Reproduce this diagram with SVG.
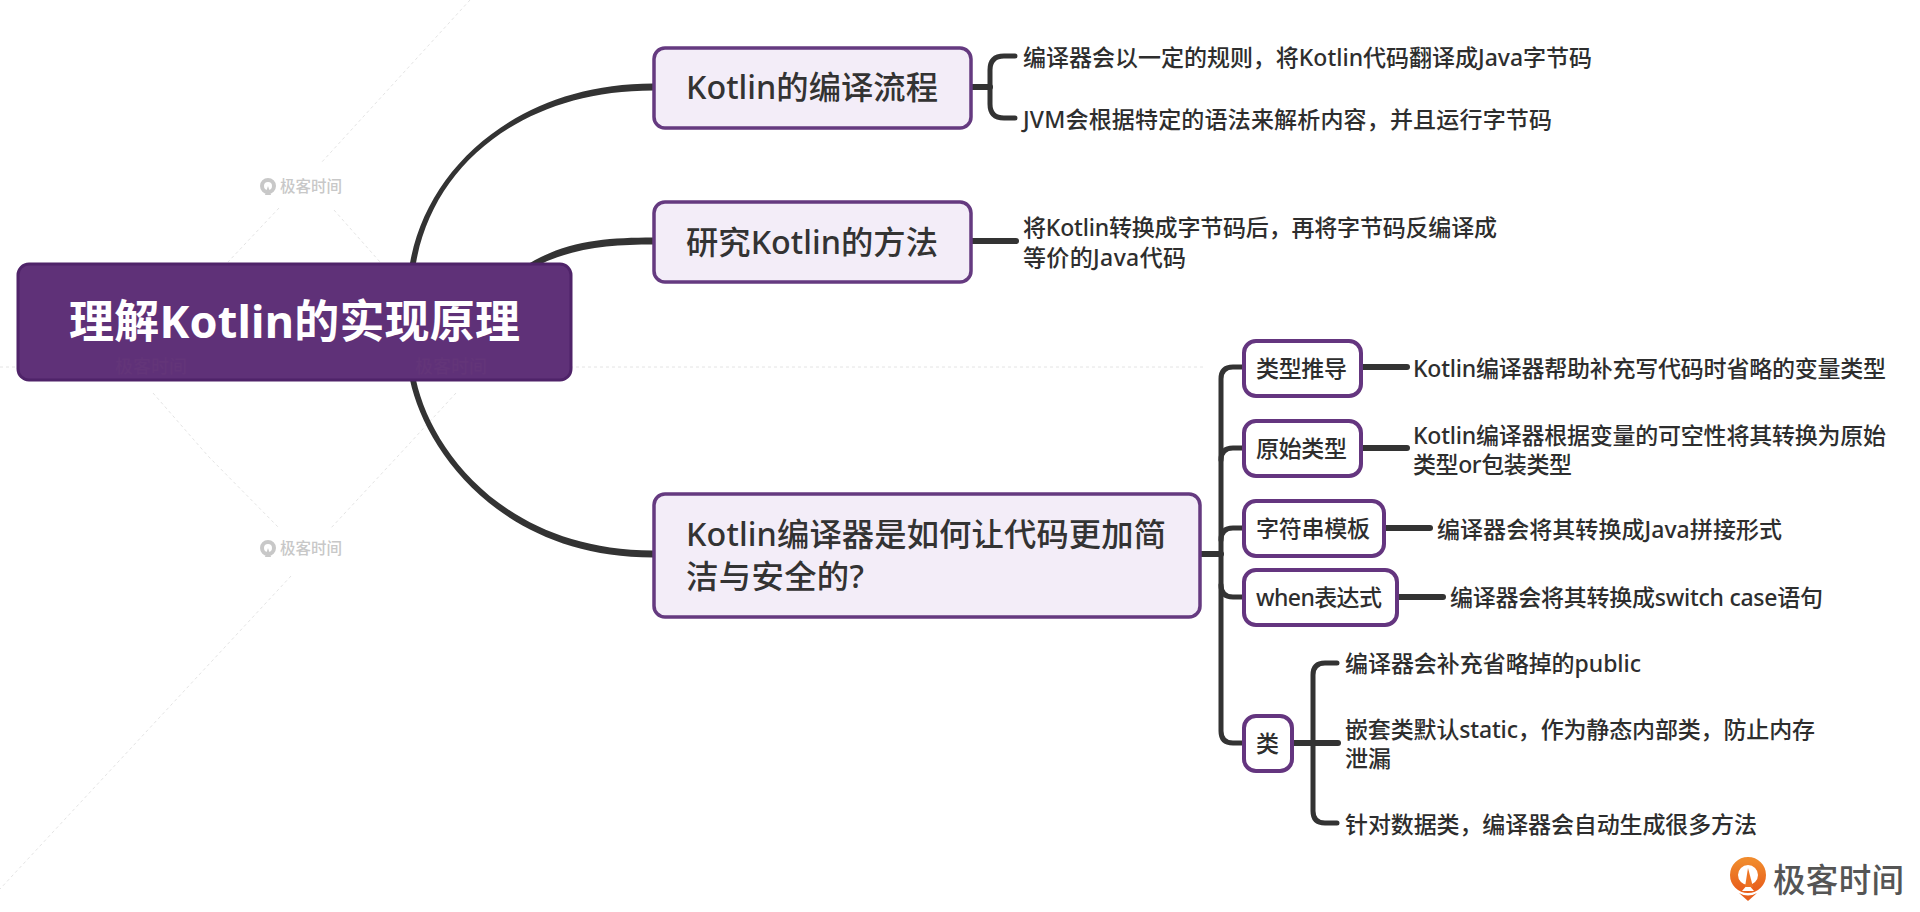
<svg xmlns="http://www.w3.org/2000/svg" width="1920" height="912" viewBox="0 0 1920 912">
<defs><linearGradient id="og" x1="0" y1="0" x2="0" y2="1"><stop offset="0" stop-color="#f08a2c"/><stop offset="1" stop-color="#e8601c"/></linearGradient></defs>
<style>
text{font-family:"Noto Sans","Noto Sans CJK SC",sans-serif;font-weight:500}
.root{fill:#5f3178;stroke:#4f2369;stroke-width:3}
.main{fill:#f3edf8;stroke:#653a80;stroke-width:3.5}
.sub{fill:#fff;stroke:#64357f;stroke-width:4}
.t1{font-size:45px;fill:#fff;font-weight:700}
.t2{font-size:32.3px;fill:#333}
.t3{font-size:23px;fill:#2e2e2e}
.line{fill:none;stroke:#333;stroke-width:5;stroke-linecap:round}
.thick{fill:none;stroke:#333;stroke-width:6;stroke-linecap:round}
.wm{fill:none;stroke:#e4e4e4;stroke-width:1;stroke-dasharray:3 3}
.wmt{font-size:15.500px;fill:#c8c8c8}
.wmi{fill:none;stroke:#c8c8c8;stroke-width:4}
</style>
<rect width="1920" height="912" fill="#fff"/>
<g id="watermark">
<path class="wm" d="M0 367H1205M470 0L321 163M279 208L228 262M334 210L380 262M153 393L208 456L279 528M456 393L398 456L331 528M291 576L0 889"/>
<g id="wm1"><circle class="wmi" cx="268" cy="186" r="6"/><path d="M268 186L271 195H265Z" fill="#c8c8c8"/><text class="wmt" x="280" y="192">极客时间</text></g>
<g id="wm2"><circle class="wmi" cx="268" cy="548" r="6"/><path d="M268 548L271 557H265Z" fill="#c8c8c8"/><text class="wmt" x="280" y="554">极客时间</text></g>
</g>
<g id="connectors">
<path fill="#333" d="M410 263C427.500 165 520 83.500 653 83.500V90.500C522 90.500 433 165 416 263Z"/>
<path fill="#333" d="M522 268C562 241 605 237.500 653 237.500V244.500C610 244.500 566 248 528 271Z"/>
<path fill="#333" d="M410 380C425 450 500 557.500 653 557.500V550.500C505 550.500 431 450 416 380Z"/>
<path class="thick" d="M971 87H990"/>
<path class="line" d="M1015 56H1004Q990 56 990 70V104Q990 118 1004 118H1015"/>
<path class="thick" d="M971 241H1016"/>
<path class="thick" d="M1200 554H1221"/>
<path class="line" d="M1245 367H1233Q1221 367 1221 379V731Q1221 743 1233 743H1245"/>
<path class="line" d="M1221 460Q1221 448 1233 448H1245"/>
<path class="line" d="M1221 540Q1221 528 1233 528H1245"/>
<path class="line" d="M1221 585Q1221 597 1233 597H1245"/>
<path class="thick" d="M1361 367H1407"/>
<path class="thick" d="M1361 448H1407"/>
<path class="thick" d="M1384 528H1430"/>
<path class="thick" d="M1397 597H1443"/>
<path class="thick" d="M1292 743H1338"/>
<path class="line" d="M1337 663H1325Q1313 663 1313 675V811Q1313 823 1325 823H1337"/>
</g>
<g id="root"><rect class="root" x="18" y="264" width="553" height="116" rx="11"/><text class="t1" x="69" y="338" textLength="451">理解Kotlin的实现原理</text><text x="115" y="373" font-size="18" fill="#633579">极客时间</text><text x="415" y="373" font-size="18" fill="#633579">极客时间</text></g>
<g id="n1"><rect class="main" x="654" y="48" width="317" height="80" rx="11"/><text class="t2" x="686" y="99" textLength="252">Kotlin的编译流程</text></g>
<g id="n2"><rect class="main" x="654" y="202" width="317" height="80" rx="11"/><text class="t2" x="686" y="254" textLength="252">研究Kotlin的方法</text></g>
<g id="n3"><rect class="main" x="654" y="494" width="546" height="123" rx="11"/><text class="t2" x="686" y="546" textLength="480">Kotlin编译器是如何让代码更加简</text><text class="t2" x="686" y="588" textLength="178">洁与安全的?</text></g>
<g id="n1a"><text class="t3" x="1023" y="65.500" textLength="569">编译器会以一定的规则，将Kotlin代码翻译成Java字节码</text></g>
<g id="n1b"><text class="t3" x="1023" y="128" textLength="529">JVM会根据特定的语法来解析内容，并且运行字节码</text></g>
<g id="n2a"><text class="t3" x="1023" y="236" textLength="474">将Kotlin转换成字节码后，再将字节码反编译成</text><text class="t3" x="1023" y="265.500" textLength="163">等价的Java代码</text></g>
<g id="s1"><rect class="sub" x="1244" y="341" width="117" height="55" rx="12"/><text class="t3" x="1256" y="377" textLength="91">类型推导</text></g>
<g id="s2"><rect class="sub" x="1244" y="421" width="117" height="55" rx="12"/><text class="t3" x="1256" y="457" textLength="91">原始类型</text></g>
<g id="s3"><rect class="sub" x="1244" y="501" width="140" height="55" rx="12"/><text class="t3" x="1256" y="537" textLength="114">字符串模板</text></g>
<g id="s4"><rect class="sub" x="1244" y="570" width="153" height="55" rx="12"/><text class="t3" x="1256" y="606" textLength="126">when表达式</text></g>
<g id="s5"><rect class="sub" x="1244" y="716" width="48" height="55" rx="12"/><text class="t3" x="1256" y="752">类</text></g>
<g id="s1a"><text class="t3" x="1413" y="377" textLength="473">Kotlin编译器帮助补充写代码时省略的变量类型</text></g>
<g id="s2a"><text class="t3" x="1413" y="444" textLength="473">Kotlin编译器根据变量的可空性将其转换为原始</text><text class="t3" x="1413" y="473" textLength="159">类型or包装类型</text></g>
<g id="s3a"><text class="t3" x="1437" y="537.500" textLength="345">编译器会将其转换成Java拼接形式</text></g>
<g id="s4a"><text class="t3" x="1450" y="606" textLength="373">编译器会将其转换成switch case语句</text></g>
<g id="s5a"><text class="t3" x="1345" y="672" textLength="296">编译器会补充省略掉的public</text></g>
<g id="s5b"><text class="t3" x="1345" y="738" textLength="470">嵌套类默认static，作为静态内部类，防止内存</text><text class="t3" x="1345" y="767">泄漏</text></g>
<g id="s5c"><text class="t3" x="1345" y="833" textLength="412">针对数据类，编译器会自动生成很多方法</text></g>
<g id="logo">
<circle cx="1748" cy="875" r="14" fill="none" stroke="url(#og)" stroke-width="8"/>
<path d="M1742 891L1748 884L1754 891Z" fill="#fff"/>
<path d="M1748 868L1753 887H1745Z" fill="#ee7424"/>
<path d="M1739 893Q1748 898 1757 893L1748 901Z" fill="#e8601c"/>
<text x="1773" y="892" font-size="32.500" fill="#555" textLength="131">极客时间</text>
</g>
</svg>
